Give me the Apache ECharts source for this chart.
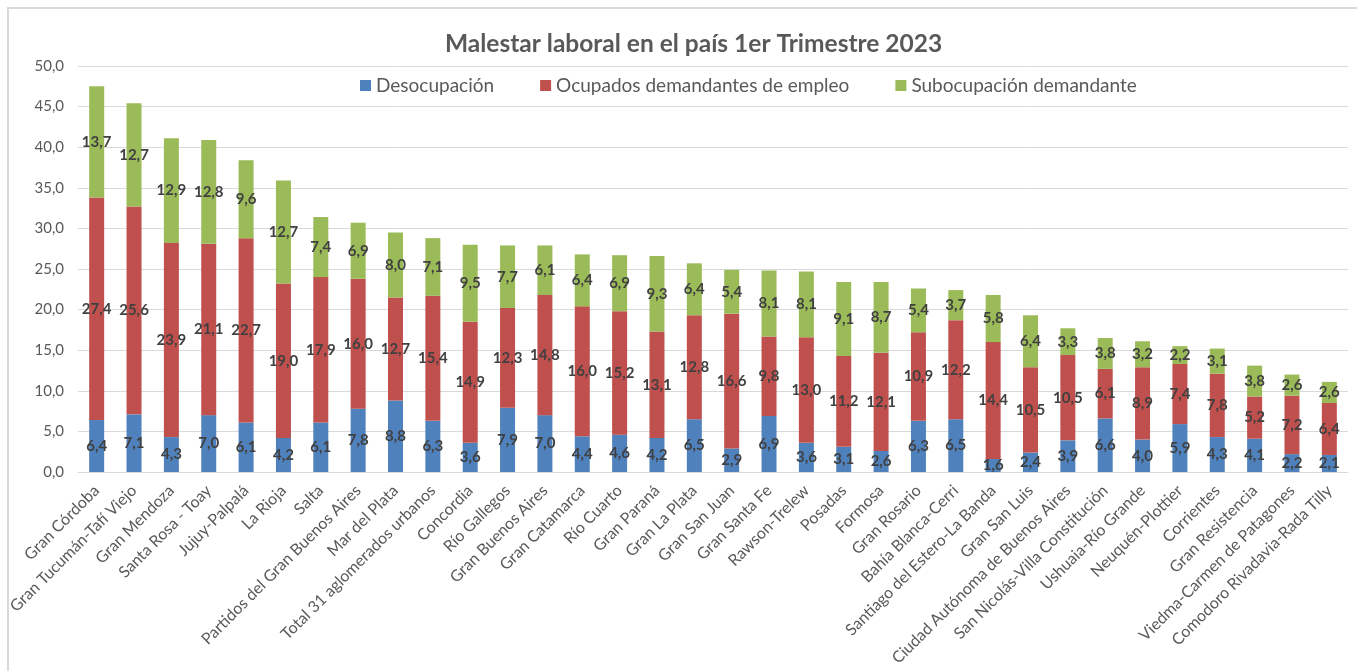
<!DOCTYPE html>
<html lang="es">

<head>
  <meta charset="UTF-8">
  <title>Malestar laboral en el país 1er Trimestre 2023</title>
  <script src="https://cdn.jsdelivr.net/npm/echarts@6/dist/echarts.min.js"></script>
  <style>
    html, body { margin: 0; padding: 0; background: #fff; }
    #chart { width: 1357px; height: 671px; }
  </style>
</head>

<body>
  <div id="chart"></div>

  <script>
    // aglomerados, ordenados de mayor a menor malestar total
    const categorias = [
      'Gran Córdoba', 'Gran Tucumán-Tafí Viejo', 'Gran Mendoza', 'Santa Rosa - Toay',
      'Jujuy-Palpalá', 'La Rioja', 'Salta', 'Partidos del Gran Buenos Aires',
      'Mar del Plata', 'Total 31 aglomerados urbanos', 'Concordia', 'Río Gallegos',
      'Gran Buenos Aires', 'Gran Catamarca', 'Río Cuarto', 'Gran Paraná',
      'Gran La Plata', 'Gran San Juan', 'Gran Santa Fe', 'Rawson-Trelew',
      'Posadas', 'Formosa', 'Gran Rosario', 'Bahía Blanca-Cerri',
      'Santiago del Estero-La Banda', 'Gran San Luis', 'Ciudad Autónoma de Buenos Aires',
      'San Nicolás-Villa Constitución', 'Ushuaia-Río Grande', 'Neuquén-Plottier',
      'Corrientes', 'Gran Resistencia', 'Viedma-Carmen de Patagones',
      'Comodoro Rivadavia-Rada Tilly'
    ]
    const desocupacion = [
      6.4, 7.1, 4.3, 7.0, 6.1, 4.2, 6.1, 7.8, 8.8, 6.3, 3.6, 7.9, 7.0, 4.4, 4.6, 4.2,
      6.5, 2.9, 6.9, 3.6, 3.1, 2.6, 6.3, 6.5, 1.6, 2.4, 3.9, 6.6, 4.0, 5.9, 4.3, 4.1, 2.2, 2.1
    ]
    const ocupadosDemandantes = [
      27.4, 25.6, 23.9, 21.1, 22.7, 19.0, 17.9, 16.0, 12.7, 15.4, 14.9, 12.3, 14.8, 16.0, 15.2, 13.1,
      12.8, 16.6, 9.8, 13.0, 11.2, 12.1, 10.9, 12.2, 14.4, 10.5, 10.5, 6.1, 8.9, 7.4, 7.8, 5.2, 7.2, 6.4
    ]
    const subocupacion = [
      13.7, 12.7, 12.9, 12.8, 9.6, 12.7, 7.4, 6.9, 8.0, 7.1, 9.5, 7.7, 6.1, 6.4, 6.9, 9.3,
      6.4, 5.4, 8.1, 8.1, 9.1, 8.7, 5.4, 3.7, 5.8, 6.4, 3.3, 3.8, 3.2, 2.2, 3.1, 3.8, 2.6, 2.6
    ]
    const yMin = 0
    const yMax = 50
    const yPaso = 5

    const fuente = 'Lato, "Open Sans", sans-serif'
    const coma = v => v.toFixed(1).replace('.', ',')

    function serie(nombre, datos, color) {
      return {
        name: nombre,
        type: 'bar',
        stack: 'total',
        barWidth: 15,
        data: datos,
        itemStyle: { color: color },
        label: {
          show: true,
          position: 'inside',
          color: '#404040',
          fontFamily: fuente,
          fontWeight: 'bold',
          fontSize: 15,
          formatter: p => coma(p.value)
        }
      }
    }

    const chart = echarts.init(document.getElementById('chart'))
    chart.setOption({
      backgroundColor: '#fff',
      animation: false,
      textStyle: { fontFamily: fuente },
      // marco gris del gráfico
      graphic: [{
        type: 'rect',
        shape: { x: 8, y: 8, width: 1400, height: 700 },
        style: { fill: 'none', stroke: '#d9d9d9', lineWidth: 2 },
        silent: true
      }],
      title: {
        text: 'Malestar laboral en el país 1er Trimestre 2023',
        left: 440,
        top: 27,
        textStyle: { color: '#595959', fontSize: 24.5, fontWeight: 'bold', fontFamily: fuente }
      },
      legend: {
        left: 355,
        top: 71,
        itemWidth: 11,
        itemHeight: 11,
        itemGap: 46,
        icon: 'rect',
        textStyle: { color: '#595959', fontSize: 19, fontFamily: fuente }
      },
      grid: { left: 78, right: 9, top: 66, bottom: 199 },
      xAxis: {
        type: 'category',
        data: categorias,
        axisLine: { lineStyle: { color: '#d9d9d9', width: 1 } },
        axisTick: { show: false },
        axisLabel: {
          interval: 0,
          rotate: 45,
          color: '#595959',
          fontSize: 16,
          fontFamily: fuente,
          margin: 16
        }
      },
      yAxis: {
        type: 'value',
        min: yMin,
        max: yMax,
        interval: yPaso,
        axisLine: { show: false },
        axisTick: { show: false },
        splitLine: { lineStyle: { color: '#d9d9d9', width: 1 } },
        axisLabel: {
          color: '#595959',
          fontSize: 15,
          fontFamily: fuente,
          margin: 14,
          formatter: v => coma(v)
        }
      },
      series: [
        serie('Desocupación', desocupacion, '#4f81bd'),
        serie('Ocupados demandantes de empleo', ocupadosDemandantes, '#c0504d'),
        serie('Subocupación demandante', subocupacion, '#9bbb59')
      ]
    })
  </script>
</body>

</html>
